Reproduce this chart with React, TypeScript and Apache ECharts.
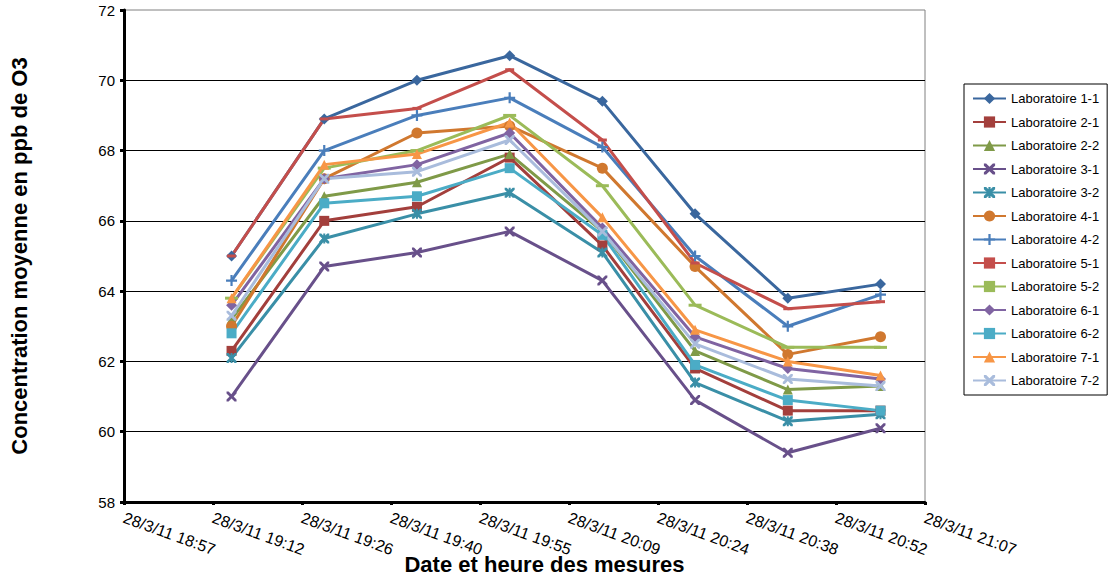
import React, { useEffect, useRef } from "react";
import * as echarts from "echarts";

const tickLabels = [
  "28/3/11 18:57", "28/3/11 19:12", "28/3/11 19:26", "28/3/11 19:40", "28/3/11 19:55",
  "28/3/11 20:09", "28/3/11 20:24", "28/3/11 20:38", "28/3/11 20:52", "28/3/11 21:07",
];
const times = ["19:15", "19:30", "19:45", "20:00", "20:15", "20:30", "20:45", "21:00"];

const names = [
  "Laboratoire 1-1", "Laboratoire 2-1", "Laboratoire 2-2", "Laboratoire 3-1", "Laboratoire 3-2",
  "Laboratoire 4-1", "Laboratoire 4-2", "Laboratoire 5-1", "Laboratoire 5-2", "Laboratoire 6-1",
  "Laboratoire 6-2", "Laboratoire 7-1", "Laboratoire 7-2",
];

const lab11 = [65.0, 68.9, 70.0, 70.7, 69.4, 66.2, 63.8, 64.2];
const lab21 = [62.3, 66.0, 66.4, 67.8, 65.3, 61.8, 60.6, 60.6];
const lab22 = [63.2, 66.7, 67.1, 67.9, 65.7, 62.3, 61.2, 61.3];
const lab31 = [61.0, 64.7, 65.1, 65.7, 64.3, 60.9, 59.4, 60.1];
const lab32 = [62.1, 65.5, 66.2, 66.8, 65.1, 61.4, 60.3, 60.5];
const lab41 = [63.0, 67.2, 68.5, 68.7, 67.5, 64.7, 62.2, 62.7];
const lab42 = [64.3, 68.0, 69.0, 69.5, 68.1, 65.0, 63.0, 63.9];
const lab51 = [65.0, 68.9, 69.2, 70.3, 68.3, 64.8, 63.5, 63.7];
const lab52 = [63.8, 67.5, 68.0, 69.0, 67.0, 63.6, 62.4, 62.4];
const lab61 = [63.6, 67.2, 67.6, 68.5, 65.8, 62.7, 61.8, 61.5];
const lab62 = [62.8, 66.5, 66.7, 67.5, 65.6, 61.9, 60.9, 60.6];
const lab71 = [63.8, 67.6, 67.9, 68.8, 66.1, 62.9, 62.0, 61.6];
const lab72 = [63.3, 67.2, 67.4, 68.3, 65.7, 62.5, 61.5, 61.3];

const values = [lab11, lab21, lab22, lab31, lab32, lab41, lab42, lab51, lab52, lab61, lab62, lab71, lab72];

const colors = [
  "#3A679E", "#A33F3C", "#7F9A48", "#68508A", "#3A8FA7", "#D0782F", "#4A7EBB",
  "#C44E4B", "#9BBB59", "#8064A2", "#4BACC6", "#F79646", "#A9BCDC",
];

const X_PATH = "path://M0,0 L2,0 L5,3 L8,0 L10,0 L10,2 L7,5 L10,8 L10,10 L8,10 L5,7 L2,10 L0,10 L0,8 L3,5 L0,2 Z";
const STAR_PATH =
  "path://M0,0 L2,0 L5,3 L8,0 L10,0 L10,2 L7,5 L10,8 L10,10 L8,10 L5,7 L2,10 L0,10 L0,8 L3,5 L0,2 Z M4,0 L6,0 L6,10 L4,10 Z";
const PLUS_PATH = "path://M4,0 L6,0 L6,4 L10,4 L10,6 L6,6 L6,10 L4,10 L4,6 L0,6 L0,4 L4,4 Z";
const SHORT_DASH = "path://M0,0 L9,0 L9,3 L0,3 Z";
const LONG_DASH = "path://M0,0 L13,0 L13,3 L0,3 Z";

const symbols: any[] = [
  ["diamond", 11], ["rect", 10], ["triangle", 10], [X_PATH, 10], [STAR_PATH, 10], ["circle", 11],
  [PLUS_PATH, 11], [SHORT_DASH, [9, 3]], [LONG_DASH, [13, 3]], ["diamond", 11], ["rect", 10], ["triangle", 10],
  [X_PATH, 10],
];

const X_MIN = 0.79;
const X_STEP = 0.01;
const X_MAX = 0.88;

function toDay(t: string) {
  const [h, m] = t.split(":").map(Number);
  return (h * 60 + m) / 1440;
}

const FONT = "Liberation Sans, Arial, sans-serif";

export default function App() {
  const ref = useRef<HTMLDivElement>(null);
  useEffect(() => {
    const chart = echarts.init(ref.current!, undefined, { renderer: "svg" });
    const series = names.map((name, i) => ({
      name,
      type: "line",
      data: values[i].map((v, j) => [toDay(times[j]), v]),
      symbol: symbols[i][0],
      symbolSize: symbols[i][1],
      showAllSymbol: true,
      lineStyle: { width: 3, color: colors[i] },
      itemStyle: { color: colors[i] },
      emphasis: { disabled: true },
    }));
    chart.setOption({
      animation: false,
      color: colors,
      grid: {
        left: 124,
        right: 183,
        top: 10,
        bottom: 83,
        containLabel: false,
        outerBoundsMode: "none",
        show: true,
        borderColor: "#808080",
        borderWidth: 1,
        backgroundColor: "transparent",
      },
      legend: {
        orient: "vertical",
        left: 964,
        top: 84,
        padding: [8, 8, 8, 8],
        borderColor: "#000",
        borderWidth: 1,
        itemWidth: 33,
        itemHeight: 14,
        itemGap: 10.5,
        textStyle: { fontSize: 13, fontFamily: FONT, color: "#000" },
        data: names,
      },
      xAxis: {
        type: "value",
        min: X_MIN,
        max: X_MAX,
        interval: X_STEP,
        name: "Date et heure des mesures",
        nameLocation: "middle",
        nameGap: 51,
        nameMoveOverlap: false,
        nameTextStyle: {
          fontSize: 22,
          fontWeight: "bold",
          fontFamily: FONT,
          color: "#000",
          padding: [0, 0, 0, 40],
          verticalAlign: "top",
        },
        axisLine: { show: true, lineStyle: { color: "#000", width: 3 } },
        axisTick: { show: true, length: 3, lineStyle: { color: "#000", width: 3 } },
        splitLine: { show: false },
        axisLabel: {
          rotate: -20,
          margin: 15,
          fontSize: 16,
          fontFamily: FONT,
          color: "#000",
          showMinLabel: true,
          showMaxLabel: true,
          formatter: (v: number) => tickLabels[Math.round((v - X_MIN) / X_STEP)] ?? "",
        },
      },
      yAxis: {
        type: "value",
        min: 58,
        max: 72,
        interval: 2,
        name: "Concentration moyenne en ppb de O3",
        nameLocation: "middle",
        nameGap: 94,
        nameMoveOverlap: false,
        nameTextStyle: { fontSize: 22, fontWeight: "bold", fontFamily: FONT, color: "#000" },
        axisLine: { show: true, lineStyle: { color: "#000", width: 3 } },
        axisTick: { show: true, length: 4, lineStyle: { color: "#000", width: 3 } },
        splitLine: { show: true, showMaxLine: false, lineStyle: { color: "#000", width: 1 } },
        axisLabel: { margin: 9, fontSize: 15, fontFamily: FONT, color: "#000" },
      },
      series,
    });
    return () => chart.dispose();
  }, []);
  return (
    <div
      ref={ref}
      style={{ position: "fixed", left: 0, top: 0, width: 1108, height: 585, background: "#fff" }}
    />
  );
}
